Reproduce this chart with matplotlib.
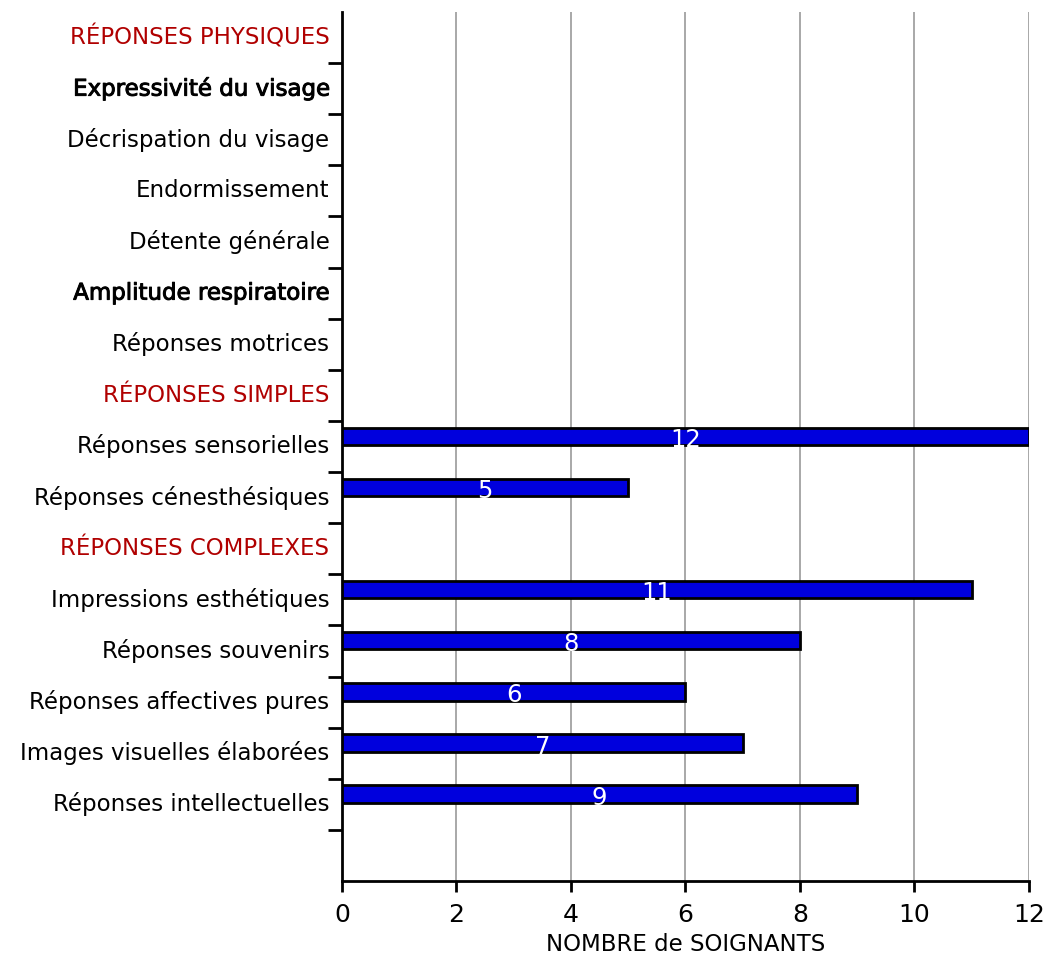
import matplotlib.pyplot as plt
import matplotlib.patheffects as pe
import numpy as np

labels = [
    "RÉPONSES PHYSIQUES",
    "Expressivité du visage",
    "Décrispation du visage",
    "Endormissement",
    "Détente générale",
    "Amplitude respiratoire",
    "Réponses motrices",
    "RÉPONSES SIMPLES",
    "Réponses sensorielles",
    "Réponses cénesthésiques",
    "RÉPONSES COMPLEXES",
    "Impressions esthétiques",
    "Réponses souvenirs",
    "Réponses affectives pures",
    "Images visuelles élaborées",
    "Réponses intellectuelles",
    "",
]
values = [np.nan, np.nan, np.nan, np.nan, np.nan, np.nan, np.nan, np.nan,
          12, 5, np.nan, 11, 8, 6, 7, 9, np.nan]
headers = {"RÉPONSES PHYSIQUES", "RÉPONSES SIMPLES", "RÉPONSES COMPLEXES"}
heavy_rows = {"Expressivité du visage", "Amplitude respiratoire"}

fig = plt.figure(figsize=(10.5, 9.61), dpi=100)
ax = fig.add_axes([0.3257, 0.0832, 0.6543, 0.9043])

y = np.arange(len(labels))
vals = np.array(values, dtype=float)
mask = ~np.isnan(vals)
# bars sit a little above the slot centre
ax.barh(y[mask] - 0.2, vals[mask], height=0.34, color="#0000dd",
        edgecolor="black", linewidth=2, zorder=3)
for yi, v in zip(y[mask], vals[mask]):
    ax.text(v / 2, yi - 0.13, f"{int(v)}", color="white", ha="center",
            va="center", fontsize=17.5, zorder=4)

ax.set_xlim(0, 12)
ax.set_ylim(len(labels) - 0.5, -0.5)
ax.set_xticks(np.arange(0, 13, 2))
ax.tick_params(axis="x", labelsize=18, length=8, width=2, direction="out", pad=8)
ax.set_yticks(y - 0.05)
ax.set_yticklabels(labels, fontsize=16.5)
ax.tick_params(axis="y", length=0, pad=9)
ax.set_yticks(np.arange(0.5, len(labels) - 1, 1), minor=True)
ax.tick_params(axis="y", which="minor", length=10, width=2, direction="out")
for t in ax.get_yticklabels():
    if t.get_text() in headers:
        t.set_color("#b00000")
    elif t.get_text() in heavy_rows:
        t.set_path_effects([pe.withStroke(linewidth=0.7, foreground="black")])

ax.grid(axis="x", color="#999999", linewidth=1.2, zorder=0)
ax.set_axisbelow(True)
for s in ("top", "right"):
    ax.spines[s].set_visible(False)
for s in ("left", "bottom"):
    ax.spines[s].set_linewidth(2)
ax.set_xlabel("NOMBRE de SOIGNANTS", fontsize=16.5, labelpad=4)

fig.savefig("out.png", dpi=100)
